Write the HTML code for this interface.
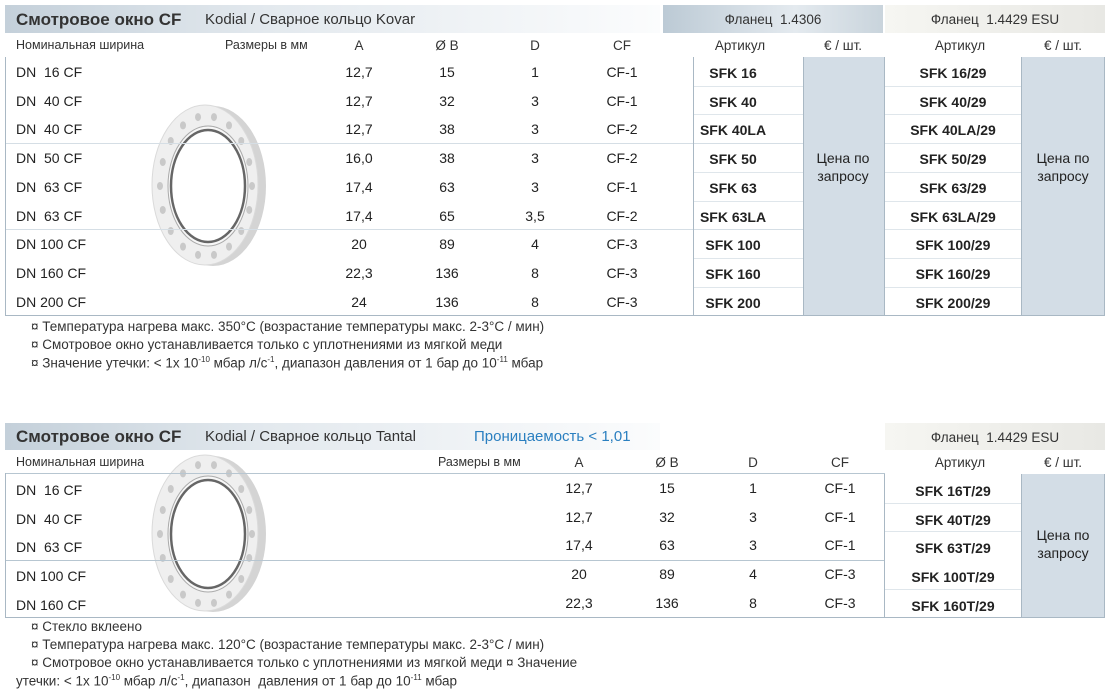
<!DOCTYPE html>
<html><head><meta charset="utf-8">
<style>
body{margin:0;width:1110px;height:695px;background:#fff;position:relative;overflow:hidden;font-family:"Liberation Sans",Arial,sans-serif;color:#222}
.a{position:absolute;white-space:pre}
.c{transform:translateX(-50%)}
.hb{position:absolute;background:linear-gradient(90deg,#c4d0da 0%,#e3e9ee 40%,#fbfcfd 100%)}
.t{font-size:17px;font-weight:bold;color:#333}
.s{font-size:15px;color:#333}
.h{font-size:12.5px;color:#333}
.hf{font-size:13.5px;color:#333}
.hc{font-size:13.5px;color:#333}
.r{font-size:14px;color:#222}
.b{font-size:14px;font-weight:bold;color:#222}
.n{font-size:13.5px;color:#333}
.line{position:absolute;height:1px;background:#dfe6eb}
.sline{position:absolute;height:1px;background:#b7c6d1}
.vl{position:absolute;width:1px;background:#a9b8c4}
.pc{position:absolute;background:#d3dde6}
sup{font-size:8px}
</style></head><body>
<svg class="a" style="left:0;top:0" width="1110" height="695">
 <g>
  <ellipse cx="213" cy="186" rx="53" ry="80" fill="#d4d4d4"/>
  <ellipse cx="205" cy="185" rx="53" ry="80" fill="#efefef" stroke="#dadada"/>
  <ellipse cx="208" cy="186" rx="40" ry="60" fill="#f7f7f7" stroke="#aaa" stroke-width="1"/>
  <ellipse cx="208" cy="186" rx="37" ry="56" fill="#fff" stroke="#666" stroke-width="2.5"/>
  <g id="holes1" fill="#c9c9c9"></g>
 </g>
 <g>
  <ellipse cx="213" cy="534" rx="53" ry="78" fill="#d4d4d4"/>
  <ellipse cx="205" cy="533" rx="53" ry="78" fill="#efefef" stroke="#dadada"/>
  <ellipse cx="208" cy="534" rx="40" ry="58" fill="#f7f7f7" stroke="#aaa" stroke-width="1"/>
  <ellipse cx="208" cy="534" rx="37" ry="54" fill="#fff" stroke="#666" stroke-width="2.5"/>
  <g id="holes2" fill="#c9c9c9"></g>
 </g>
</svg>
<div id="root"></div>
<script>
const rows1=["DN  16 CF","DN  40 CF","DN  40 CF","DN  50 CF","DN  63 CF","DN  63 CF","DN 100 CF","DN 160 CF","DN 200 CF"];
const a1=["12,7","12,7","12,7","16,0","17,4","17,4","20","22,3","24"];
const b1=["15","32","38","38","63","65","89","136","136"];
const d1=["1","3","3","3","3","3,5","4","8","8"];
const cf1=["CF-1","CF-1","CF-2","CF-2","CF-1","CF-2","CF-3","CF-3","CF-3"];
const art1=["SFK 16","SFK 40","SFK 40LA","SFK 50","SFK 63","SFK 63LA","SFK 100","SFK 160","SFK 200"];
const art1b=["SFK 16/29","SFK 40/29","SFK 40LA/29","SFK 50/29","SFK 63/29","SFK 63LA/29","SFK 100/29","SFK 160/29","SFK 200/29"];
const rows2=["DN  16 CF","DN  40 CF","DN  63 CF","DN 100 CF","DN 160 CF"];
const a2=["12,7","12,7","17,4","20","22,3"];
const b2=["15","32","63","89","136"];
const d2=["1","3","3","4","8"];
const cf2=["CF-1","CF-1","CF-1","CF-3","CF-3"];
const art2=["SFK 16T/29","SFK 40T/29","SFK 63T/29","SFK 100T/29","SFK 160T/29"];

[['holes1',186],['holes2',534]].forEach(h=>{
  const g=document.getElementById(h[0]);
  for(let k=0;k<18;k++){const t=k/18*2*Math.PI;const c=document.createElementNS('http://www.w3.org/2000/svg','ellipse');
    c.setAttribute('cx',206+46*Math.cos(t));c.setAttribute('cy',h[1]+70*Math.sin(t));c.setAttribute('rx',3);c.setAttribute('ry',4);
    
    
    g.appendChild(c);}
});

const R=document.getElementById('root');
function el(cls,x,y,txt,st){const e=document.createElement('div');e.className='a '+cls;e.style.left=x+'px';e.style.top=y+'px';if(st)e.style.cssText+=st;if(txt!==undefined)e.innerHTML=txt;R.appendChild(e);return e;}

let e;
e=el('hb',5,5,undefined,'width:655px;height:28px');
e=el('hb',663,5,undefined,'width:220px;height:28px;background:linear-gradient(90deg,#bccad5,#e4eaef 60%,#c9d4dc)');
e=el('hb',885,5,undefined,'width:220px;height:28px;background:linear-gradient(90deg,#f6f6f2,#e8e8e4)');
e=el('t',16,10,'Смотровое окно CF');
e=el('s',205,11,'Kodial / Сварное кольцо Kovar');
e=el('hf c',773,12,'Фланец  1.4306');
e=el('hf c',995,12,'Фланец  1.4429 ESU');
const H1=[['h',16,'Номинальная ширина'],['h',225,'Размеры в мм'],['hc c',359,'A'],['hc c',447,'Ø B'],['hc c',535,'D'],['hc c',622,'CF'],['hf c',740,'Артикул'],['hf c',843,'€ / шт.'],['hf c',960,'Артикул'],['hf c',1063,'€ / шт.']];
H1.forEach(h=>{const x=el(h[0],h[1],38,h[2]);});
e=el('pc',803,57,undefined,'width:81px;height:258px');
e=el('pc',1021,57,undefined,'width:83px;height:258px');
const T1=57,RH=28.7;
rows1.forEach((r,i)=>{
  const y=T1+i*RH;
  const big=(i==3||i==6);
  if(i>0){const l=el(big?'sline':'line',big?5:693,Math.round(y),undefined,'width:'+(big?798:110)+'px'+(big?';background:#d5dee5':''));
    const l2=el('line',885,Math.round(y),undefined,'width:136px');}
  const ty=Math.round(y+7);
  let x;
  x=el('r',16,ty,r);
  x=el('r c',359,ty,a1[i]);
  x=el('r c',447,ty,b1[i]);
  x=el('r c',535,ty,d1[i]);
  x=el('r c',622,ty,cf1[i]);
  x=el('b c',733,ty+1,art1[i]);
  x=el('b c',953,ty+1,art1b[i]);
});
e=el('r',843,149,'Цена по\nзапросу','transform:translateX(-50%);text-align:center;line-height:18px');
e=el('r',1063,149,'Цена по\nзапросу','transform:translateX(-50%);text-align:center;line-height:18px');
[[5,57],[693,57],[803,57],[884,57],[1021,57],[1104,57]].forEach(v=>{const x=el('vl',v[0],v[1],undefined,'height:258px');});
e=el('vl',5,315,undefined,'width:1100px;height:1px');
const notes1=['¤ Температура нагрева макс. 350°C (возрастание температуры макс. 2-3°C / мин)','¤ Смотровое окно устанавливается только с уплотнениями из мягкой меди','¤ Значение утечки: &lt; 1x 10<sup>-10</sup> мбар л/с<sup>-1</sup>, диапазон давления от 1 бар до 10<sup>-11</sup> мбар'];
notes1.forEach((t,i)=>{const x=el('n',31,319+i*18,t);});

e=el('hb',5,423,undefined,'width:655px;height:27px');
e=el('hb',885,423,undefined,'width:220px;height:27px;background:linear-gradient(90deg,#f6f6f2,#e8e8e4)');
e=el('t',16,427,'Смотровое окно CF');
e=el('s',205,428,'Kodial / Сварное кольцо Tantal');
e=el('s',474,428,'Проницаемость &lt; 1,01','color:#2a7fc0');
e=el('hf c',995,430,'Фланец  1.4429 ESU');
const H2=[['h',16,'Номинальная ширина'],['h',438,'Размеры в мм'],['hc c',579,'A'],['hc c',667,'Ø B'],['hc c',753,'D'],['hc c',840,'CF'],['hf c',960,'Артикул'],['hf c',1063,'€ / шт.']];
H2.forEach(h=>{const x=el(h[0],h[1],455,h[2]);});
e=el('pc',1021,474,undefined,'width:83px;height:143px');
const T2=474;
rows2.forEach((r,i)=>{
  const y=T2+i*RH;
  if(i>0){const l=el(i==3?'sline':'line',i==3?5:885,Math.round(y),undefined,'width:'+(i==3?880:136)+'px');}
  const ty=Math.round(y+7);
  let x;
  x=el('r',16,ty+1,r);
  x=el('r c',579,ty-1,a2[i]);
  x=el('r c',667,ty-1,b2[i]);
  x=el('r c',753,ty-1,d2[i]);
  x=el('r c',840,ty-1,cf2[i]);
  x=el('b c',953,ty+2,art2[i]);
});
e=el('r',1063,526,'Цена по\nзапросу','transform:translateX(-50%);text-align:center;line-height:18px');
e=el('sline',5,473,undefined,'width:880px');
[[5,473],[884,474],[1021,474],[1104,474]].forEach(v=>{const x=el('vl',v[0],v[1],undefined,'height:144px');});
e=el('vl',5,617,undefined,'width:1100px;height:1px');
const notes2=['¤ Стекло вклеено','¤ Температура нагрева макс. 120°C (возрастание температуры макс. 2-3°C / мин)','¤ Смотровое окно устанавливается только с уплотнениями из мягкой меди ¤ Значение','утечки: &lt; 1x 10<sup>-10</sup> мбар л/с<sup>-1</sup>, диапазон  давления от 1 бар до 10<sup>-11</sup> мбар'];
notes2.forEach((t,i)=>{const x=el('n',i==3?16:31,619+i*18,t);});
</script>
</body></html>
